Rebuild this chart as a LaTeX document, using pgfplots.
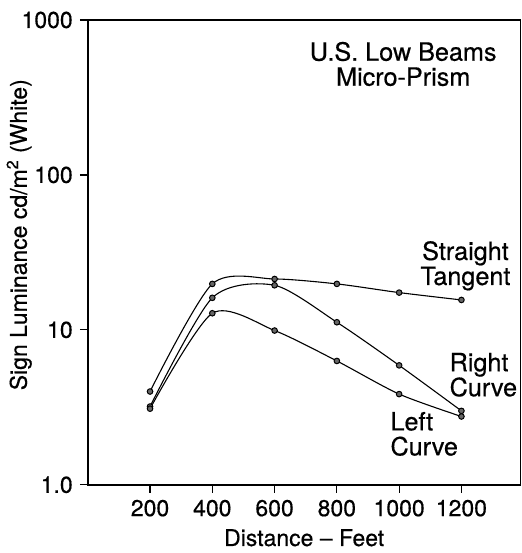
\documentclass[border=0pt]{standalone}
\usepackage{fontspec}
\setmainfont{TeX Gyre Heros}[FakeBold=0.5]
\usepackage{pgfplots}
\usepackage{pgfplotstable}
\pgfplotsset{compat=1.18}
\usetikzlibrary{calc}

% distance (ft) vs sign luminance, three road geometries
\pgfplotstableread{
x    st    rc    lc
200  4.0   3.2   3.1
400  19.8  16.1  12.8
600  21.3  19.4  9.9
800  19.8  11.2  6.3
1000 17.4  5.9   3.85
1200 15.6  3.0   2.76
}\lum

\begin{document}
\begin{tikzpicture}
\begin{axis}[
  scale only axis, width=216.5pt, height=232.5pt,
  xmin=0, xmax=1390, ymin=1, ymax=1000, ymode=log,
  xtick={200,400,...,1200},
  ytick={1,10,100,1000}, yticklabels={1.0,10,100,1000},
  yminorticks=false,
  /pgf/number format/1000 sep={},
  tick align=outside, tick pos=left, major tick length=4pt,
  axis line style={line width=0.8pt},
  tick style={line width=0.6pt, black},
  ticklabel style={font=\fontsize{11.5}{12}\selectfont},
  /pgf/number format/assume math mode=true,
  xlabel={Distance -- Feet},
  ylabel={Sign Luminance cd/m\textsuperscript{2} (White)},
  label style={font=\fontsize{11.5}{12}\selectfont},
  xlabel style={at={(rel axis cs:0.5,-0.114)}, anchor=center},
  ylabel style={at={(rel axis cs:-0.113,0.538)}, anchor=south},
  lum/.style={black, line width=0.55pt, smooth, tension=0.45,
    mark=*, mark size=1.4pt, mark options={fill=gray!80!black, line width=0.5pt}},
]
\addplot[lum] table[x=x, y=st] {\lum};
\addplot[lum] table[x=x, y=rc] {\lum};
\addplot[lum] table[x=x, y=lc] {\lum};

\begin{scope}[every node/.style={font=\fontsize{12.6}{12.5}\selectfont, inner sep=0pt}]
\node[align=center] at (axis cs:1013,520) {U.S. Low Beams\\Micro-Prism};
\node[align=center] at (axis cs:1213,25.9) {Straight\\Tangent};
\node[align=left, anchor=west] at (axis cs:1161,5.13) {Right\\Curve};
\node[align=left, anchor=west] at (axis cs:971,2.13) {Left\\Curve};
\end{scope}
\end{axis}
\path ($(current axis.south west)+(-43pt,-34pt)$) rectangle ($(current axis.north east)+(0.5pt,10pt)$);
\end{tikzpicture}
\end{document}
